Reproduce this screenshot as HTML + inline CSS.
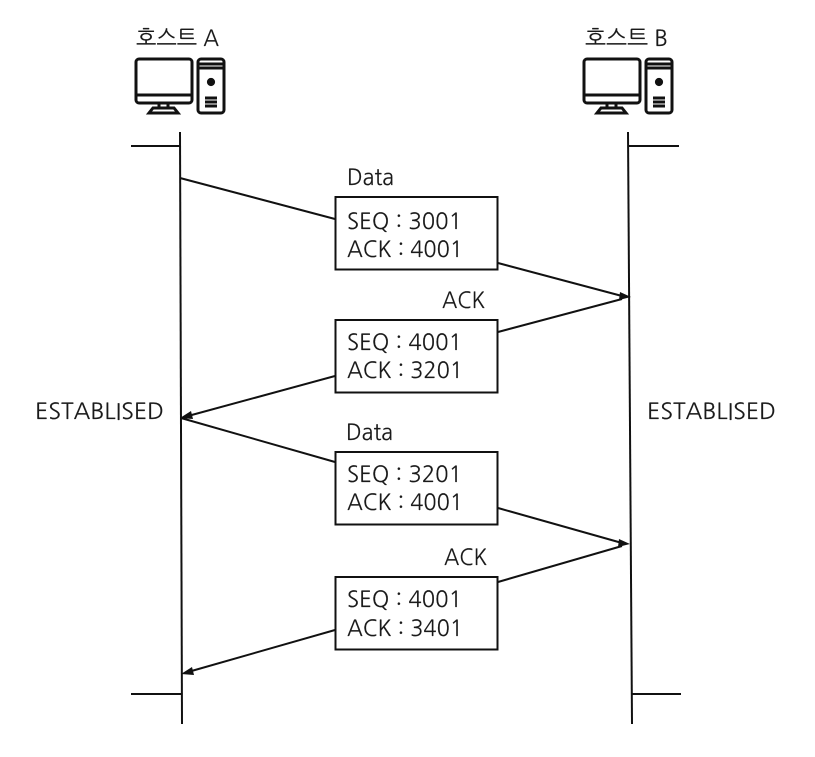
<!DOCTYPE html>
<html><head><meta charset="utf-8"><style>
html,body{margin:0;padding:0;background:#fff}
svg{display:block}
text{font-family:"NanumGothic","Noto Sans CJK KR",sans-serif;font-size:22.5px;fill:#1a1a1a;stroke:#1a1a1a;stroke-width:.15px}
</style></head><body>
<svg width="815" height="757" viewBox="0 0 815 757" xmlns="http://www.w3.org/2000/svg">
<defs>
<g id="pc" fill="none" stroke="#111" stroke-width="3">
<rect x="1" y="1" width="56" height="44" rx="3"/>
<path d="M1 37H57" />
<path d="M24 45V50M33 45V50M18 50H39L43 55H14Z"/>
<rect x="63" y="1" width="26" height="54" rx="3"/>
<path d="M64 6H88M64 10H88M70 40H82M70 44H82M70 48H82"/>
<circle cx="76" cy="24" r="2.6" fill="#111"/>
</g>
</defs>
<text x="136" y="46" textLength="83" lengthAdjust="spacingAndGlyphs">호스트 A</text>
<text x="585" y="46" textLength="83" lengthAdjust="spacingAndGlyphs">호스트 B</text>
<use href="#pc" x="135" y="58"/>
<use href="#pc" x="583" y="58"/>
<g stroke="#111" stroke-width="2" fill="none">
<path d="M180 132L182 724"/>
<path d="M628 132L632 724"/>
<path d="M131 146H180M628 146H679M131 694H181M632 694H681"/>
<path d="M180 178L335 219M498 263L622 296M498 332L622 299M335 376L188 416M181 418L335 462M498 508L622 543M498 582L622 546M335 630L188 672"/>
<rect x="335.500" y="197" width="162" height="72.500"/>
<rect x="335.500" y="320" width="162" height="72.500"/>
<rect x="335.500" y="452" width="162" height="72.500"/>
<rect x="335.500" y="577" width="162" height="72.500"/>
</g>
<g fill="#111">
<path d="M631 297L620 292L619 300Z"/>
<path d="M630 544L619 539L618 547Z"/>
<path d="M180 418L191 411L193 419Z"/>
<path d="M181 674L192 667L194 675Z"/>
</g>
<text x="347" y="185" textLength="47" lengthAdjust="spacingAndGlyphs">Data</text>
<text x="347" y="229" textLength="115" lengthAdjust="spacingAndGlyphs">SEQ : 3001</text>
<text x="347" y="257" textLength="116" lengthAdjust="spacingAndGlyphs">ACK : 4001</text>
<text x="442" y="308" textLength="43" lengthAdjust="spacingAndGlyphs">ACK</text>
<text x="347" y="350" textLength="115" lengthAdjust="spacingAndGlyphs">SEQ : 4001</text>
<text x="347" y="378" textLength="116" lengthAdjust="spacingAndGlyphs">ACK : 3201</text>
<text x="346" y="440" textLength="47" lengthAdjust="spacingAndGlyphs">Data</text>
<text x="347" y="482" textLength="115" lengthAdjust="spacingAndGlyphs">SEQ : 3201</text>
<text x="347" y="510" textLength="116" lengthAdjust="spacingAndGlyphs">ACK : 4001</text>
<text x="444" y="565" textLength="43" lengthAdjust="spacingAndGlyphs">ACK</text>
<text x="347" y="607" textLength="115" lengthAdjust="spacingAndGlyphs">SEQ : 4001</text>
<text x="347" y="636" textLength="116" lengthAdjust="spacingAndGlyphs">ACK : 3401</text>
<text x="35" y="419" textLength="129" lengthAdjust="spacingAndGlyphs">ESTABLISED</text>
<text x="647" y="419" textLength="129" lengthAdjust="spacingAndGlyphs">ESTABLISED</text>
</svg>
</body></html>
